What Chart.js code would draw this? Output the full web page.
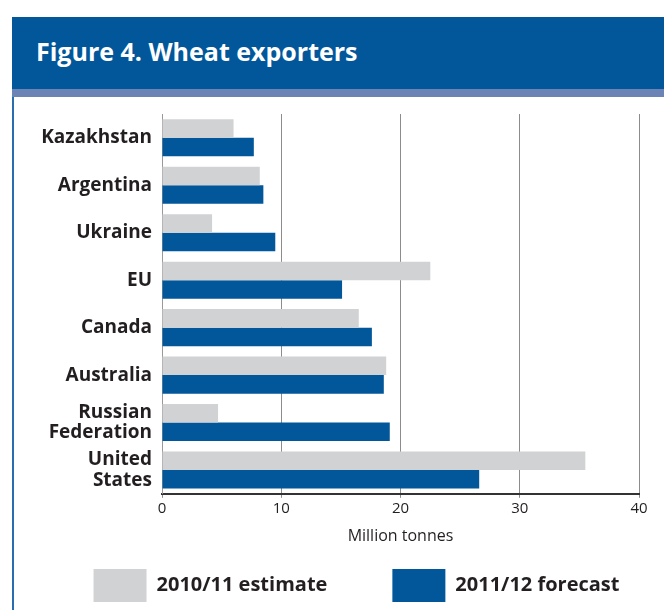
<!DOCTYPE html>
<html>
<head>
<meta charset="utf-8">
<script src="https://cdn.jsdelivr.net/npm/chart.js@4/dist/chart.umd.min.js"></script>
<style>
  html, body { margin: 0; padding: 0; background: #fff; overflow: hidden; }
  body { width: 664px; height: 610px; position: relative; font-family: "Open Sans", sans-serif; }
  #header { position: absolute; left: 12px; top: 17px; width: 652px; height: 72px; background: #02579a; }
  #header h1 { margin: 0; position: absolute; left: 24px; top: 17px; color: #fff; font-size: 25px; font-weight: 700; }
  #strip { position: absolute; left: 12px; top: 89px; width: 652px; height: 8px; background: #6b83b5; }
  #frame { position: absolute; left: 12px; top: 97px; width: 2px; height: 513px; background: #2a6db0; }
  #wrap { position: absolute; left: 14px; top: 97px; width: 650px; height: 515px; }
</style>
</head>
<body>
<div id="header"><h1>Figure 4. Wheat exporters</h1></div>
<div id="strip"></div>
<div id="frame"></div>
<div id="wrap"><canvas id="myChart" width="650" height="515"></canvas></div>
<script>
// data (million tonnes)
const countries = ['Kazakhstan', 'Argentina', 'Ukraine', 'EU', 'Canada', 'Australia',
    ['Russian', 'Federation'], ['United', 'States']];
const estimate2010 = [6.0, 8.2, 4.2, 22.5, 16.5, 18.8, 4.7, 35.5];
const forecast2011 = [7.7, 8.5, 9.5, 15.1, 17.6, 18.6, 19.1, 26.6];
const xTicks = [0, 10, 20, 30, 40];

const textColor = '#231f20';
Chart.defaults.font.family = '"Open Sans", sans-serif';
Chart.defaults.color = textColor;

const ctx = document.getElementById('myChart').getContext('2d');

const data = {
    labels: countries,
    datasets: [{
        label: '2010/11 estimate',
        data: estimate2010,
        backgroundColor: '#d1d2d4',
        borderWidth: 0
    }, {
        label: '2011/12 forecast',
        data: forecast2011,
        backgroundColor: '#02579a',
        borderWidth: 0
    }]
};

// legend sits a bit right of the canvas centre in the original
const legendShift = {
    id: 'legendShift',
    afterLayout(chart) {
        chart.legend.left += 30;
        chart.legend.right += 30;
    }
};

const myChart = new Chart(ctx, {
    type: 'bar',
    data: data,
    plugins: [legendShift],
    options: {
        indexAxis: 'y',
        responsive: false,
        animation: false,
        events: [],
        layout: { padding: { top: 17, right: 25, left: 0, bottom: 0 } },
        datasets: { bar: { categoryPercentage: 0.78, barPercentage: 1 } },
        scales: {
            x: {
                min: xTicks[0],
                max: xTicks[xTicks.length - 1],
                afterBuildTicks: (scale) => { scale.ticks = xTicks.map(v => ({ value: v })); },
                ticks: { font: { size: 15 }, color: textColor, padding: 2 },
                grid: { color: '#8c8c8c', lineWidth: 1, drawTicks: true, tickLength: 4 },
                border: { color: '#333', width: 2 },
                title: { display: true, text: 'Million tonnes', font: { size: 16 }, color: textColor,
                    padding: { top: 7, bottom: 8 } }
            },
            y: {
                afterFit: (scale) => {
                    scale.width = 148;
                    scale.paddingTop = 0;
                    scale.paddingBottom = 0;
                },
                ticks: { font: { size: 19, weight: 'bold', lineHeight: 1.1 }, color: textColor, padding: 10 },
                grid: { display: false, drawTicks: false },
                border: { display: true, color: '#999', width: 1 }
            }
        },
        plugins: {
            tooltip: { enabled: false },
            legend: {
                position: 'bottom',
                labels: {
                    boxWidth: 53,
                    boxHeight: 33,
                    padding: 15,
                    color: textColor,
                    font: { size: 20, weight: 'bold' },
                    generateLabels: (chart) => {
                        const items = Chart.defaults.plugins.legend.labels.generateLabels(chart);
                        // widen the gap between the two keys
                        items[0].text += '\u2003\u2003\u2002';
                        return items;
                    }
                }
            }
        }
    }
});
</script>
</body>
</html>
